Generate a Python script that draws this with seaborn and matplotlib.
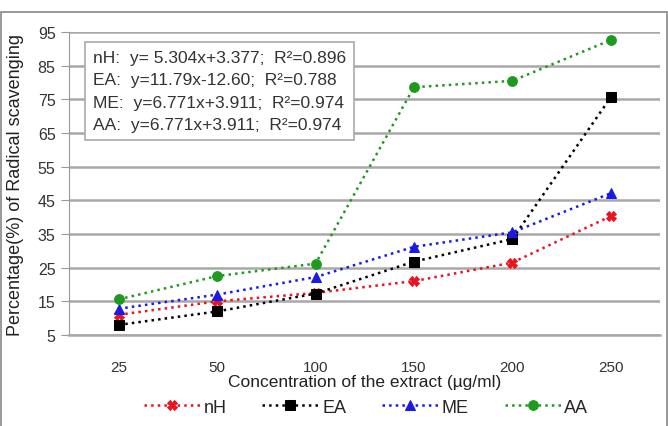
import numpy as np
import pandas as pd
import matplotlib
matplotlib.use('Agg')
import matplotlib.pyplot as plt
import seaborn as sns
from matplotlib.patches import Rectangle

# data
concentrations = ['25', '50', '100', '150', '200', '250']
nH = [11.0, 15.0, 17.5, 21.0, 26.5, 40.3]
EA = [8.0, 12.0, 17.3, 26.8, 33.5, 75.6]
ME = [12.8, 17.0, 22.2, 31.2, 35.5, 47.1]
AA = [15.6, 22.5, 26.2, 78.6, 80.5, 92.6]

eq_lines = ['nH:  y= 5.304x+3.377;  R²=0.896',
            'EA:  y=11.79x-12.60;  R²=0.788',
            'ME:  y=6.771x+3.911;  R²=0.974',
            'AA:  y=6.771x+3.911;  R²=0.974']

sns.set_style('white')
plt.rcParams['font.family'] = ['Liberation Sans', 'DejaVu Sans']

df = pd.DataFrame({'conc': concentrations * 4,
                   'pos': list(range(len(concentrations))) * 4,
                   'value': nH + EA + ME + AA,
                   'series': ['nH'] * 6 + ['EA'] * 6 + ['ME'] * 6 + ['AA'] * 6})

fig = plt.figure(figsize=(6.68, 4.27), dpi=100)
ax = fig.add_axes([0.1040, 0.2131, 0.884, 0.7096])

styles = {'nH': ('#e8141e', 'X', 7),
          'EA': ('#000000', 's', 7),
          'ME': ('#1a1ae6', '^', 7),
          'AA': ('#1e9a1e', 'o', 7)}

for name in ['nH', 'EA', 'ME', 'AA']:
    col, mk, ms = styles[name]
    sub = df[df['series'] == name]
    sns.lineplot(data=sub, x='pos', y='value', ax=ax, color=col, marker=mk,
                 markersize=ms, markeredgecolor=col, linestyle=':', linewidth=1.8,
                 label=name)

ax.set_xlim(-0.5, 5.5)
ax.set_ylim(5, 95)
ax.set_yticks(np.arange(5, 96, 10))
ax.set_yticklabels([str(v) for v in range(5, 96, 10)], fontsize=11.5, color='#333333')
ax.set_xticks(range(len(concentrations)))
ax.set_xticklabels(concentrations, fontsize=11, color='#333333')
ax.set_xticks(np.arange(-0.5, 5.6, 1), minor=True)
ax.tick_params(axis='x', which='major', length=0, pad=18)
ax.tick_params(axis='x', which='minor', length=4, color='#999999', direction='out')
ax.tick_params(axis='y', length=6, color='#999999', direction='out', left=True, pad=4)

ax.grid(axis='y', color='#a8a8a8', linewidth=1.8)
ax.set_axisbelow(True)
for side in ['top', 'right']:
    ax.spines[side].set_visible(False)
ax.spines['left'].set_color('#999999')
ax.spines['bottom'].set_color('#a8a8a8')
ax.spines['bottom'].set_linewidth(1.8)

ax.set_xlabel('Concentration of the extract (µg/ml)', fontsize=12.5, color='#222222', labelpad=0)
ax.set_ylabel('Percentage(%) of Radical scavenging', fontsize=13, color='#222222', labelpad=10)

# equation box
ax.text(0.040, 0.94, '\n'.join(eq_lines), transform=ax.transAxes, fontsize=12.5,
        va='top', ha='left', color='#333333', linespacing=1.6,
        bbox=dict(boxstyle='square,pad=0.45', facecolor='white', edgecolor='#aaaaaa', linewidth=1.2))

handles, labels = ax.get_legend_handles_labels()
ax.get_legend().remove()
fig.legend(handles, labels, loc='center', bbox_to_anchor=(0.548, 0.044), ncol=4,
           frameon=False, fontsize=13, handlelength=3.1, columnspacing=2.0,
           handletextpad=0.2)

# chart area frame
fig.patches.append(Rectangle((0.002, -0.01), 0.996, 0.98, transform=fig.transFigure,
                             fill=False, edgecolor='#888888', linewidth=1.2))

fig.savefig('out.png', dpi=100)
